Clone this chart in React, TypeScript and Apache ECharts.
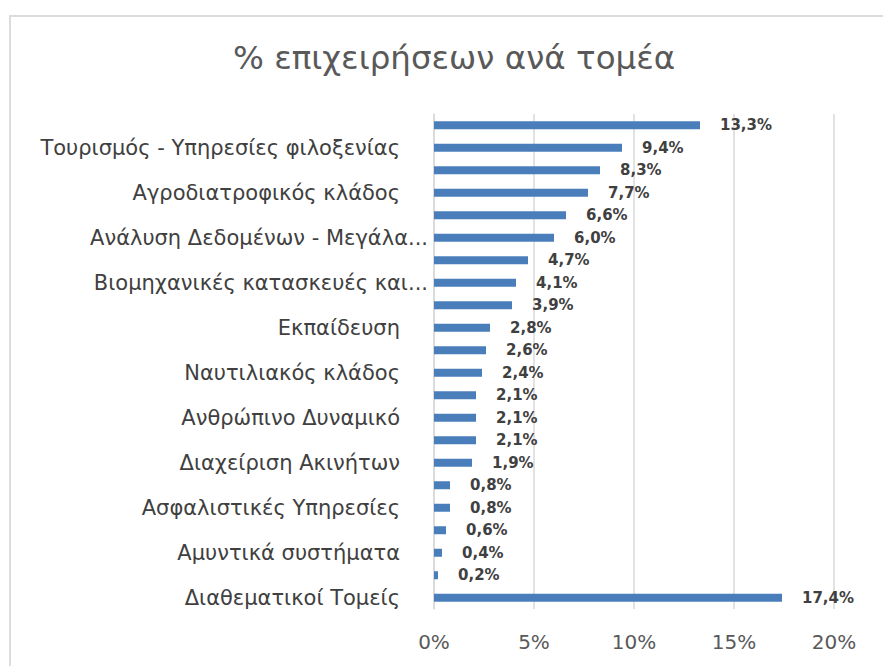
import React, { useEffect, useRef } from "react";
import * as echarts from "echarts";

const titleText = "% επιχειρήσεων ανά τομέα";

const categories = [
  "Ενέργεια",
  "Τουρισμός - Υπηρεσίες φιλοξενίας",
  "Πληροφορική",
  "Αγροδιατροφικός κλάδος",
  "Εμπόριο",
  "Ανάλυση Δεδομένων - Μεγάλα...",
  "Υγεία",
  "Βιομηχανικές κατασκευές και...",
  "Μεταφορές",
  "Εκπαίδευση",
  "Πολιτισμός",
  "Ναυτιλιακός κλάδος",
  "Περιβάλλον",
  "Ανθρώπινο Δυναμικό",
  "Χρηματοοικονομικά",
  "Διαχείριση Ακινήτων",
  "Τηλεπικοινωνίες",
  "Ασφαλιστικές Υπηρεσίες",
  "Διαφήμιση",
  "Αμυντικά συστήματα",
  "Αθλητισμός",
  "Διαθεματικοί Τομείς",
];

const values = [13.3, 9.4, 8.3, 7.7, 6.6, 6.0, 4.7, 4.1, 3.9, 2.8, 2.6, 2.4, 2.1, 2.1, 2.1, 1.9, 0.8, 0.8, 0.6, 0.4, 0.2, 17.4];

const xTicks = [0, 5, 10, 15, 20];

export default function App() {
  const ref = useRef<HTMLDivElement>(null);
  useEffect(() => {
    if (!ref.current) return;
    const chart = echarts.init(ref.current, undefined, { renderer: "svg" });
    chart.setOption({
      animation: false,
      backgroundColor: "#ffffff",
      textStyle: { fontFamily: "DejaVu Sans" },
      graphic: [
        {
          type: "rect",
          shape: { x: 10, y: 16, width: 900, height: 700 },
          style: { fill: "none", stroke: "#dcdcdc", lineWidth: 2 },
          silent: true,
        },
        {
          type: "text",
          left: 233,
          top: 41,
          style: {
            text: titleText,
            fontFamily: "DejaVu Sans",
            fontSize: 32.5,
            fill: "#595959",
          },
        },
      ],
      grid: { left: 434, right: 49, top: 114, bottom: 57, containLabel: false },
      xAxis: {
        type: "value",
        min: xTicks[0],
        max: xTicks[xTicks.length - 1],
        interval: 5,
        axisLine: { show: false },
        axisTick: { show: false },
        splitLine: { show: true, lineStyle: { color: "#d9d9d9", width: 1.5 } },
        axisLabel: {
          formatter: "{value}%",
          color: "#595959",
          fontSize: 20,
          margin: 23,
          fontFamily: "DejaVu Sans",
        },
      },
      yAxis: {
        type: "category",
        inverse: true,
        data: categories,
        axisLine: { show: true, lineStyle: { color: "#d9d9d9", width: 1.5 } },
        axisTick: { show: false },
        axisLabel: {
          interval: (i: number) => i % 2 === 1,
          color: "#404040",
          fontSize: 21,
          margin: 6,
          fontFamily: "DejaVu Sans",
          formatter: (v: string) => (v.endsWith("...") ? `{t|${v}}` : `{p|${v}}`),
          rich: {
            t: { fontSize: 21, color: "#404040", fontFamily: "DejaVu Sans" },
            p: { fontSize: 21, color: "#404040", fontFamily: "DejaVu Sans", padding: [0, 28, 0, 0] },
          },
        },
      },
      series: [
        {
          type: "bar",
          data: values,
          barWidth: 8,
          itemStyle: { color: "#4a7ebb" },
          label: {
            show: true,
            position: "right",
            distance: 20,
            formatter: (p: any) => p.value.toFixed(1).replace(".", ",") + "%",
            color: "#404040",
            fontWeight: "bold",
            fontSize: 15,
            fontFamily: "DejaVu Sans",
          },
        },
      ],
    });
    return () => chart.dispose();
  }, []);
  return (
    <div
      ref={ref}
      style={{ position: "fixed", left: 0, top: 0, width: 883, height: 666 }}
    />
  );
}
